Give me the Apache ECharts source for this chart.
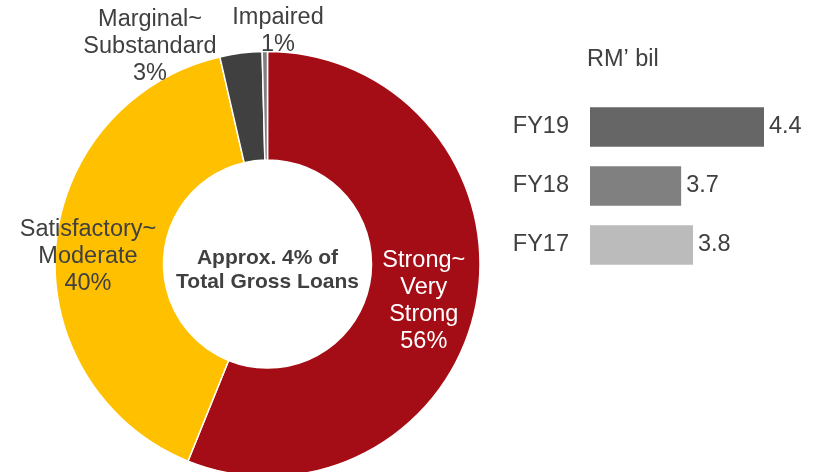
<!DOCTYPE html>
<html>
<head>
<meta charset="utf-8">
<script src="https://cdn.jsdelivr.net/npm/echarts@6/dist/echarts.min.js"></script>
<style>
html,body{margin:0;padding:0;background:#fff;}
#c{width:817px;height:472px;}
</style>
</head>
<body>
<div id="c"></div>
<script>
// Donut: risk grade share (slice sizes, labels as shown)
const gradeNames = ['Strong~\nVery\nStrong', 'Satisfactory~\nModerate', 'Marginal~\nSubstandard', 'Impaired'];
const gradeValues = [56.1, 40.3, 3.2, 0.4];
const gradeLabels = ['56%', '40%', '3%', '1%'];
const centerText = 'Approx. 4% of\nTotal Gross Loans';

// Bars: RM' bil
const years = ['FY19', 'FY18', 'FY17'];
const amounts = [4.4, 3.7, 3.8];
const unitLabel = 'RM\u2019 bil';

const gradeColors = ['#A50D16', '#FFC000', '#404040', '#808080'];
const barColors = ['#666666', '#808080', '#BBBBBB'];
const txt = '#404040';
const FONT = 'Liberation Sans, Arial, sans-serif';

const labelSpots = [null, [88, 257], [150, 47], [278, 31.5]];

const chart = echarts.init(document.getElementById('c'));
chart.setOption({
  animation: false,
  textStyle: { fontFamily: FONT },
  grid: { left: 590, right: 53, top: 97.5, height: 177 },
  xAxis: { type: 'value', min: 2.93, max: 4.4, show: false },
  yAxis: {
    type: 'category', data: years, inverse: true,
    axisLine: { show: false }, axisTick: { show: false },
    axisLabel: { color: txt, fontSize: 23.5, margin: 21, fontFamily: FONT }
  },
  graphic: [{
    type: 'text', left: 267.5 - 100, top: 264 - 18,
    style: { text: centerText, fill: txt, font: 'bold 21px ' + FONT, textAlign: 'center', lineHeight: 24, width: 200, overflow: 'none' }
  }, {
    type: 'text', left: 587, top: 48,
    style: { text: unitLabel, fill: txt, font: '23.5px ' + FONT }
  }],
  series: [{
    type: 'pie',
    center: [267.5, 264],
    radius: [104, 212.5],
    startAngle: 90,
    clockwise: true,
    silent: true,
    itemStyle: { borderColor: '#fff', borderWidth: 1.5 },
    labelLine: { show: false },
    data: gradeNames.map((n, i) => ({
      name: n, value: gradeValues[i],
      itemStyle: { color: gradeColors[i] },
      label: i === 0
        ? { position: 'inside', color: '#fff', offset: [-2, 6] }
        : { position: 'outside', color: txt }
    })),
    label: {
      show: true, fontSize: 23.5, lineHeight: 27, fontFamily: FONT,
      align: 'center', overflow: 'none', width: 200,
      formatter: p => p.name + '\n' + gradeLabels[p.dataIndex]
    },
    labelLayout: p => {
      const s = labelSpots[p.dataIndex];
      if (!s) return {};
      return { x: s[0], y: s[1], align: 'center', verticalAlign: 'middle' };
    }
  }, {
    type: 'bar',
    barWidth: 39.5,
    silent: true,
    data: amounts.map((v, i) => ({ value: v, itemStyle: { color: barColors[i] } })),
    label: { show: true, position: 'right', distance: 5, color: txt, fontSize: 23.5, fontFamily: FONT }
  }]
});
</script>
</body>
</html>
